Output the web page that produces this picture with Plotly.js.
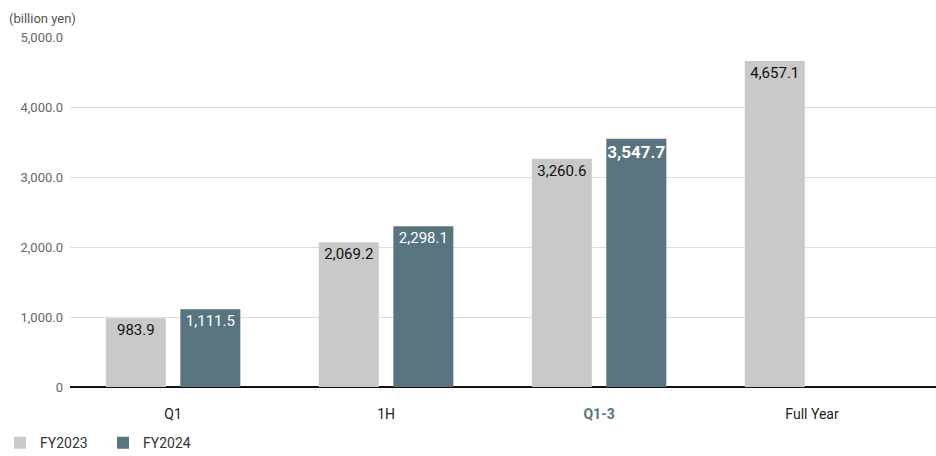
<!DOCTYPE html>
<html>
<head>
<meta charset="utf-8">
<script src="https://cdn.plot.ly/plotly-3.0.1.min.js"></script>
<style>
  html, body { margin: 0; padding: 0; background: #fff; }
  #chart { width: 936px; height: 456px; }
</style>
</head>
<body>
<div id="chart"></div>
<script>
"use strict"

var categories = ['Q1', '1H', 'Q1-3', 'Full Year'];
var category_labels = ['Q1', '1H', '<b><span style="color:#57747f">Q1-3</span></b>', 'Full Year'];
var fy2023 = [983.9, 2069.2, 3260.6, 4657.1];
var fy2024 = [1111.5, 2298.1, 3547.7, null];
var y_ticks = [0, 1000, 2000, 3000, 4000, 5000];
var y_tick_labels = ['0', '1,000.0', '2,000.0', '3,000.0', '4,000.0', '5,000.0'];

function fmt(v) {
    if (v === null) return '';
    return v.toLocaleString('en-US', {minimumFractionDigits: 1, maximumFractionDigits: 1});
}

var font_name = 'Roboto, "DejaVu Sans", sans-serif';

var trace_2023 = {
    type: 'bar',
    name: 'FY2023',
    x: categories,
    y: fy2023,
    text: fy2023.map(fmt),
    textposition: 'inside',
    insidetextanchor: 'end',
    constraintext: 'none',
    textangle: 0,
    textfont: {family: font_name, size: 15, color: '#111'},
    marker: {color: '#c9c9c9'},
    hoverinfo: 'skip'
};

var trace_2024 = {
    type: 'bar',
    name: 'FY2024',
    x: categories,
    y: fy2024,
    text: fy2024.map(function (v, i) {
        return i == 2 ? '<b>' + fmt(v) + '</b>' : fmt(v);
    }),
    textposition: 'inside',
    insidetextanchor: 'end',
    constraintext: 'none',
    textangle: 0,
    textfont: {family: font_name, size: [15, 15, 17, 15], color: '#fff'},
    marker: {color: '#57747f'},
    hoverinfo: 'skip'
};

var layout = {
    width: 936,
    height: 456,
    margin: {l: 70, r: 0, t: 37, b: 69},
    paper_bgcolor: '#fff',
    plot_bgcolor: '#fff',
    barmode: 'group',
    bargap: 0.30,
    bargroupgap: 0.195,
    font: {family: font_name, color: '#222'},
    showlegend: true,
    legend: {
        orientation: 'h',
        xref: 'paper', x: -0.098, xanchor: 'left',
        yref: 'container', y: 0.028, yanchor: 'middle',
        font: {size: 14, color: '#333'},
        itemwidth: 30,
        entrywidth: 58,
        tracegroupgap: 0
    },
    xaxis: {
        type: 'category',
        range: [-0.484, 3.582],
        tickvals: categories,
        ticktext: category_labels,
        tickfont: {size: 14, color: '#222'},
        showgrid: false,
        ticks: '',
        ticklabelstandoff: 17,
        showline: false,
        zeroline: false,
        automargin: false,
        fixedrange: true
    },
    yaxis: {
        range: [0, 5000],
        tickvals: y_ticks,
        ticktext: y_tick_labels,
        tickfont: {size: 13, color: '#666'},
        showgrid: true,
        gridcolor: '#dcdcdc',
        gridwidth: 1,
        zeroline: true,
        zerolinecolor: '#111',
        zerolinewidth: 1.5,
        ticks: '',
        ticklabelstandoff: 6,
        showline: false,
        automargin: false,
        fixedrange: true
    },
    annotations: [{
        text: '(billion yen)',
        xref: 'paper', yref: 'paper',
        x: -0.073, xanchor: 'left',
        y: 1.052, yanchor: 'middle',
        showarrow: false,
        font: {size: 13, color: '#555'}
    }]
};

Plotly.newPlot('chart', [trace_2023, trace_2024], layout, {displayModeBar: false, staticPlot: true});
</script>
</body>
</html>
